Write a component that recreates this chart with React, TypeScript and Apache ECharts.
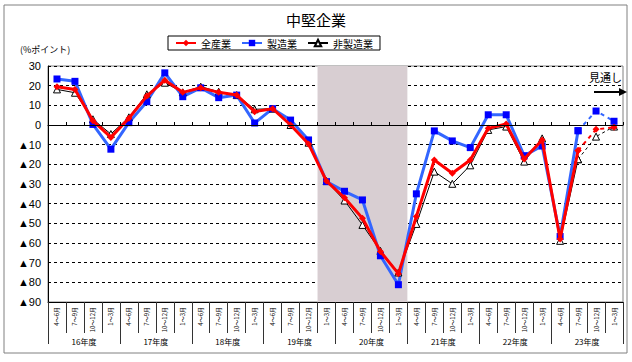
import React, { useEffect, useRef } from "react";
import * as echarts from "echarts";

const quarterLabels = ["4～6月", "7～9月", "10～12月", "1～3月"];
const fiscalYears = ["16年度", "17年度", "18年度", "19年度", "20年度", "21年度", "22年度", "23年度"];
const categories: string[] = fiscalYears.flatMap(() => quarterLabels);

// 全産業
const allIndustry = [19.5, 18.1, 2.2, -6.3, 3.4, 14.7, 22.8, 16.6, 18.9, 16.6, 15.2, 6.8, 8.3, 0, -9.6, -28.5, -37, -47.4, -64.3, -75.6, -46.5, -17.8, -24.5, -17.8, -1.7, 0.5, -17.3, -7.6, -58, -13, -2.2, -1.2];
// 製造業
const manufacturing = [23.4, 22.2, 0.3, -12.3, 1.2, 11.8, 26.5, 14.4, 18.9, 13.9, 15.2, 1.0, 8.3, 2.5, -7.6, -28.8, -33.7, -38.1, -66.5, -81.2, -35, -3, -8.1, -11.5, 5.2, 5.2, -15.6, -10.7, -56.7, -2.9, 7.1, 1.9];
// 非製造業
const nonManufacturing = [18.1, 16.4, 2.9, -4.6, 3.9, 15.6, 21.5, 16.6, 19.5, 16.9, 15.2, 8, 8.3, 0, -9, -28.5, -38.4, -50.8, -64, -75, -50.3, -23.7, -29.9, -20.5, -2.5, -0.8, -18.6, -6.8, -58.9, -17.4, -5.9, -0.8];

const lastActual = 29; // index of the last actual value; later ones are forecasts
const shadeStart = 15;
const shadeEnd = 19;
const yMin = -90;
const yMax = 30;

const FONT = "'Noto Sans CJK JP', 'Liberation Sans', sans-serif";
const SHADE = "#d8ced2";

function actual(arr: number[]) {
  return arr.map((v, i) => (i <= lastActual ? v : null));
}
function forecast(arr: number[]) {
  return arr.map((v, i) => (i >= lastActual ? v : null));
}

export default function App() {
  const ref = useRef<HTMLDivElement>(null);
  useEffect(() => {
    if (!ref.current) return;
    const chart = echarts.init(ref.current, undefined, { renderer: "svg" });

    chart.setOption({
      animation: false,
      textStyle: { fontFamily: FONT },
      title: {
        text: "中堅企業",
        left: "center",
        top: 7,
        textStyle: { fontSize: 15, fontWeight: "normal", color: "#000", fontFamily: FONT },
      },
      legend: {
        data: ["全産業", "製造業", "非製造業"],
        left: 168,
        top: 36,
        padding: [2, 7, 2, 7],
        borderColor: "#000",
        borderWidth: 1,
        itemWidth: 20,
        itemHeight: 8,
        itemGap: 10,
        textStyle: { fontSize: 10, color: "#000", fontFamily: FONT },
      },
      grid: {
        left: 48,
        right: 9,
        top: 66,
        bottom: 60,
        show: true,
        borderColor: "#808080",
        borderWidth: 1,
      },
      xAxis: [
        {
          type: "category",
          data: categories,
          position: "bottom",
          axisLine: { onZero: false, lineStyle: { color: "#000" } },
          axisTick: { show: true, length: 31, interval: 0, lineStyle: { color: "#333" } },
          axisLabel: {
            interval: 0,
            rotate: 90,
            fontSize: 6,
            margin: 5,
            color: "#000",
            fontFamily: FONT,
          },
        },
        {
          type: "category",
          data: categories,
          position: "bottom",
          z: 5,
          axisLine: { onZero: true, lineStyle: { color: "#000", width: 1 } },
          axisTick: { show: true, inside: true, length: 3, interval: 0, lineStyle: { color: "#000" } },
          axisLabel: { show: false },
        },
        {
          type: "category",
          data: fiscalYears,
          position: "bottom",
          axisLine: { onZero: false, show: false },
          axisTick: { show: true, length: 42, interval: 0, lineStyle: { color: "#333" } },
          axisLabel: { interval: 0, fontSize: 8, margin: 35, color: "#000", fontFamily: FONT },
        },
      ],
      yAxis: {
        type: "value",
        min: yMin,
        max: yMax,
        interval: 10,
        axisLine: { show: true, lineStyle: { color: "#000" } },
        axisTick: { show: false },
        axisLabel: {
          fontSize: 11,
          color: "#000",
          margin: 7,
          fontFamily: "'Liberation Sans', 'Noto Sans CJK JP', sans-serif",
          formatter: (v: number) => (v < 0 ? "▲" + -v : String(v)),
        },
        splitLine: {
          show: true,
          lineStyle: { color: "#000", type: [3, 3], width: 1 },
        },
      },
      series: [
        {
          name: "shade",
          type: "custom",
          xAxisIndex: 0,
          silent: true,
          z: 1,
          data: [[shadeStart, shadeEnd]],
          renderItem: (params: any, api: any) => {
            const s = api.value(0);
            const e = api.value(1);
            const p1 = api.coord([s, yMax]);
            const p2 = api.coord([e, yMin]);
            const bw = api.size([1, 0])[0];
            return {
              type: "rect",
              shape: { x: p1[0] - bw / 2, y: p1[1], width: p2[0] - p1[0] + bw, height: p2[1] - p1[1] },
              style: { fill: SHADE },
            };
          },
        },
        {
          name: "非製造業",
          type: "line",
          data: actual(nonManufacturing),
          symbol: "triangle",
          symbolSize: 7,
          lineStyle: { color: "#000", width: 1 },
          itemStyle: { color: "#fff", borderColor: "#000", borderWidth: 1 },
          z: 3,
        },
        {
          name: "全産業",
          type: "line",
          data: actual(allIndustry),
          symbol: "diamond",
          symbolSize: 7,
          lineStyle: { color: "#ff0000", width: 3 },
          itemStyle: { color: "#ff0000" },
          z: 4,
        },
        {
          name: "製造業",
          type: "line",
          data: actual(manufacturing),
          symbol: "rect",
          symbolSize: 7,
          lineStyle: { color: "#3366ff", width: 3 },
          itemStyle: { color: "#0000ff" },
          z: 3,
        },
        {
          name: "非製造業見通し",
          type: "line",
          data: forecast(nonManufacturing),
          symbol: "triangle",
          symbolSize: 7,
          lineStyle: { color: "#000", width: 1, type: [3, 3] },
          itemStyle: { color: "#fff", borderColor: "#000", borderWidth: 1 },
          z: 3,
        },
        {
          name: "全産業見通し",
          type: "line",
          data: forecast(allIndustry),
          symbol: "diamond",
          symbolSize: 7,
          lineStyle: { color: "#ff0000", width: 2, type: [4, 4] },
          itemStyle: { color: "#ff0000" },
          z: 4,
        },
        {
          name: "製造業見通し",
          type: "line",
          data: forecast(manufacturing),
          symbol: "rect",
          symbolSize: 7,
          lineStyle: { color: "#3366ff", width: 2, type: [4, 4] },
          itemStyle: { color: "#0000ff" },
          z: 3,
        },
      ],
      graphic: [
        {
          type: "rect",
          shape: { x: 4, y: 5, width: 623, height: 348 },
          style: { fill: "none", stroke: "#808080", lineWidth: 1 },
          silent: true,
        },
        {
          type: "text",
          x: 20,
          y: 45,
          style: { text: "(%ポイント)", fontSize: 9, fill: "#000", fontFamily: FONT },
        },
        {
          type: "text",
          x: 589,
          y: 71,
          style: { text: "見通し", fontSize: 11, fill: "#000", fontFamily: FONT },
        },
        {
          type: "line",
          shape: { x1: 594, y1: 92, x2: 620, y2: 92 },
          style: { stroke: "#000", lineWidth: 2 },
        },
        {
          type: "polygon",
          shape: { points: [[619, 88], [627, 92], [619, 96]] },
          style: { fill: "#000" },
        },
      ],
    });
    return () => chart.dispose();
  }, []);
  return (
    <div
      ref={ref}
      style={{ position: "fixed", left: 0, top: 0, width: 632, height: 362, background: "#fff" }}
    />
  );
}
